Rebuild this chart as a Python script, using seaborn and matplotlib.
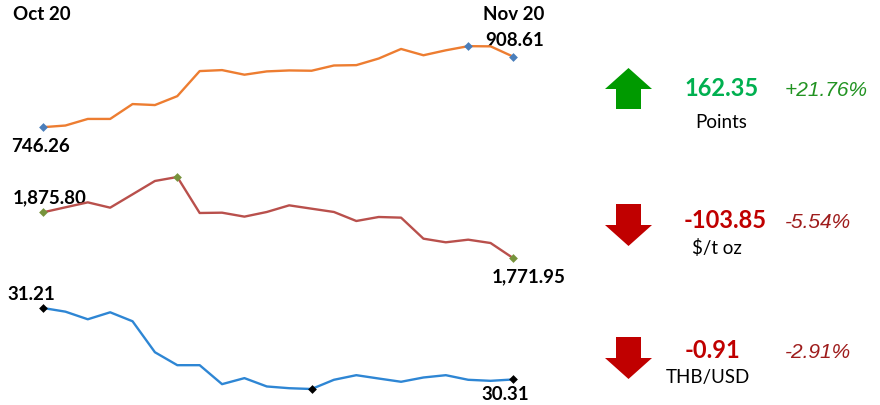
import numpy as np
import pandas as pd
import matplotlib
matplotlib.use("Agg")
import matplotlib.pyplot as plt
from matplotlib.patches import Polygon
import seaborn as sns

# sparkline data, Oct 20 -> Nov 20 (22 sessions)
set_index = [746.26, 750.05, 765.2, 765.2, 799.4, 797.1, 817.6, 875.2, 877.5, 866.9, 874.5,
             876.7, 876.0, 888.1, 888.9, 904.1, 926.1, 911.6, 923.0, 932.5, 932.1, 908.61]
gold = [1875.80, 1887.2, 1898.5, 1886.4, 1916.7, 1947.1, 1956.2, 1874.3, 1875.0, 1866.0, 1876.6,
        1891.7, 1884.1, 1876.6, 1856.1, 1865.2, 1863.7, 1815.9, 1807.6, 1813.6, 1806.0, 1771.95]
thb = [31.21, 31.164, 31.068, 31.156, 31.043, 30.653, 30.49, 30.49, 30.251, 30.327, 30.222,
       30.20, 30.19, 30.306, 30.364, 30.322, 30.281, 30.335, 30.364, 30.306, 30.293, 30.31]

start_label = "Oct 20"
end_label = "Nov 20"
units = ["Points", "$/t oz", "THB/USD"]
changes = [162.35, -103.85, -0.91]
pct_changes = [21.76, -5.54, -2.91]

line_colors = ["#ED7D31", "#B9504C", "#2E86D4"]
marker_colors = ["#4A7EBB", "#77933C", "#000000"]

sns.set_style("white")
plt.rcParams['font.family'] = ['Lato', 'DejaVu Sans']

fig = plt.figure(figsize=(8.8, 4.05), dpi=100)

# overlay in pixel coords for text and arrows
ov = fig.add_axes([0, 0, 1, 1])
ov.set_xlim(0, 880)
ov.set_ylim(405, 0)
ov.axis("off")

series = [set_index, gold, thb]
ax_bottoms = [0.686, 0.363, 0.0395]
for vals, bot, lc, mc in zip(series, ax_bottoms, line_colors, marker_colors):
    ax = fig.add_axes([0.0489, bot, 0.534, 0.2])
    df = pd.DataFrame({"day": np.arange(len(vals)), "value": vals})
    sns.lineplot(data=df, x="day", y="value", ax=ax, color=lc, linewidth=1.7)
    # markers on first, last, high and low points
    idx = sorted({0, len(vals) - 1, int(np.argmax(vals)), int(np.argmin(vals))})
    sns.scatterplot(data=df.iloc[idx], x="day", y="value", ax=ax, color=mc,
                    marker="D", s=20, edgecolor=mc, linewidth=0, zorder=5, clip_on=False)
    ax.set_xlim(0, len(vals) - 1)
    ax.set_ylim(min(vals), max(vals))
    ax.axis("off")
    for c in ax.collections:
        c.set_clip_on(False)
    for l in ax.lines:
        l.set_clip_on(False)

lbl = dict(fontsize=13.5, fontweight="bold", color="black", va="center")
ov.text(13, 15, start_label, ha="left", **lbl)
ov.text(544, 15, end_label, ha="right", **lbl)
ov.text(544, 40, f"{set_index[-1]:,.2f}", ha="right", **lbl)
ov.text(11, 146, f"{set_index[0]:,.2f}", ha="left", **lbl)
ov.text(13, 198, f"{gold[0]:,.2f}", ha="left", **lbl)
ov.text(566, 277, f"{gold[-1]:,.2f}", ha="right", **lbl)
ov.text(7, 294, f"{thb[0]:,.2f}", ha="left", **lbl)
ov.text(529, 394, f"{thb[-1]:,.2f}", ha="right", **lbl)

# block arrows
def up_arrow(y_top, color):
    pts = [(628.5, y_top), (652, y_top + 21), (641, y_top + 21), (641, y_top + 41),
           (616, y_top + 41), (616, y_top + 21), (605, y_top + 21)]
    ov.add_patch(Polygon(pts, closed=True, color=color, lw=0))

def down_arrow(y_top, color):
    pts = [(616, y_top), (641, y_top), (641, y_top + 21), (652, y_top + 21),
           (628.5, y_top + 42), (605, y_top + 21), (616, y_top + 21)]
    ov.add_patch(Polygon(pts, closed=True, color=color, lw=0))

up_arrow(68, "#009A00")
down_arrow(204, "#C00000")
down_arrow(337, "#C00000")

num_y = [88, 220, 350]
num_x = [722, 725, 712]
unit_y = [122, 248, 378]
unit_x = [721, 717, 708]
num_colors = ["#00B050", "#C00000", "#C00000"]
pct_colors = ["#229322", "#9E1C1C", "#9E1C1C"]
for i in range(3):
    ov.text(num_x[i], num_y[i], f"{changes[i]:.2f}", ha="center", va="center",
            fontsize=17, fontweight="bold", color=num_colors[i])
    ov.text(785, num_y[i] + 3, f"{pct_changes[i]:+.2f}%" if pct_changes[i] > 0 else f"{pct_changes[i]:.2f}%",
            ha="left", va="center", fontsize=15, style="italic",
            color=pct_colors[i], family=["Liberation Sans", "DejaVu Sans"])
    ov.text(unit_x[i], unit_y[i], units[i], ha="center", va="center",
            fontsize=13.5, color="black")

fig.savefig("out.png", dpi=100)
